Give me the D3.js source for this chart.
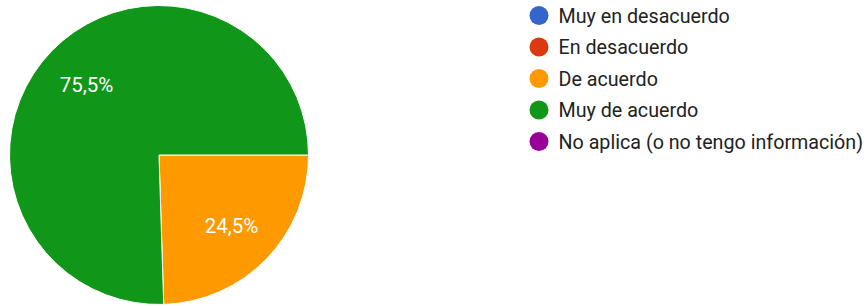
<!DOCTYPE html>
<html><head><meta charset="utf-8">
<script src="https://cdn.jsdelivr.net/npm/d3@7"></script>
<style>html,body{margin:0;padding:0;background:#fff;}svg{display:block;}</style>
</head><body>
<svg id="chart" width="868" height="306"></svg>
<script>
const categories = ["Muy en desacuerdo","En desacuerdo","De acuerdo","Muy de acuerdo","No aplica (o no tengo información)"];
const values = [0, 0, 24.5, 75.5, 0];
const colors = ["#3366cc","#dc3912","#ff9900","#109618","#990099"];
const valueLabels = ["", "", "24,5%", "75,5%", ""];

const svg = d3.select("#chart");
const cx = 159, cy = 155, r = 149.5;
const data = categories.map((c,i)=>({cat:c, v:values[i], color:colors[i], label:valueLabels[i]}));

const pie = d3.pie().value(d=>d.v).sort(null).startAngle(Math.PI/2).endAngle(Math.PI/2 + 2*Math.PI);
const arcs = pie(data.filter(d=>d.v>0));
const arc = d3.arc().innerRadius(0).outerRadius(r);
const labelArc = d3.arc().innerRadius(101).outerRadius(101);

const g = svg.append("g").attr("transform",`translate(${cx},${cy})`);
g.selectAll("path").data(arcs).join("path")
  .attr("d",arc).attr("fill",d=>d.data.color)
  .attr("stroke","#fff").attr("stroke-width",1);
g.selectAll("text").data(arcs).join("text")
  .attr("transform",d=>`translate(${labelArc.centroid(d)})`)
  .attr("text-anchor","middle").attr("dy","0.36em")
  .attr("fill","#fff").attr("font-family","Roboto, Arial, sans-serif").attr("font-size",20.5)
  .text(d=>d.data.label);

const legendY = d3.scalePoint().domain(categories).range([15.5, 141.5]);
const lg = svg.append("g");
const items = lg.selectAll("g").data(data).join("g")
  .attr("transform",d=>`translate(539,${legendY(d.cat)})`);
items.append("circle").attr("r",9.5).attr("fill",d=>d.color);
items.append("text").attr("x",19.5).attr("dy","0.36em")
  .attr("fill","#222").attr("font-family","Roboto, Arial, sans-serif").attr("font-size",19.7)
  .text(d=>d.cat);
</script>
</body></html>
